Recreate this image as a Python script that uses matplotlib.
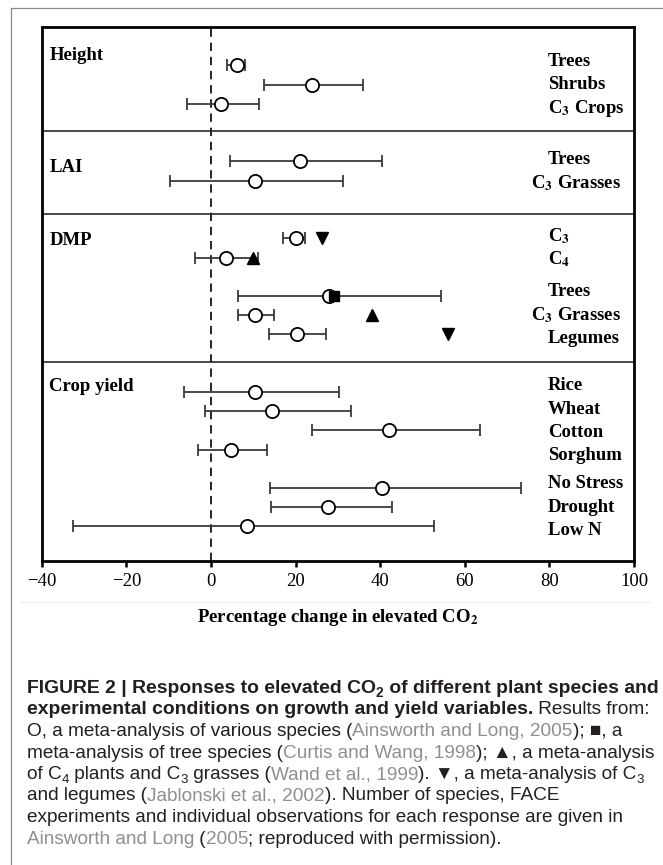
import matplotlib
matplotlib.use("Agg")
import matplotlib.pyplot as plt
from matplotlib.lines import Line2D
from matplotlib.transforms import blended_transform_factory

# values: % change under elevated CO2 (mean, 95% CI)
panel_names = ["Height", "LAI", "DMP", "Crop yield"]

height_labels = ["Trees", "Shrubs", r"C$_\mathbf{3}$ Crops"]
height_mean = [6.1, 23.9, 2.4]
height_lo = [3.8, 12.5, -5.7]
height_hi = [8.1, 36.0, 11.3]
height_groups = [3]

lai_labels = ["Trees", r"C$_\mathbf{3}$ Grasses"]
lai_mean = [21.1, 10.3]
lai_lo = [4.4, -9.6]
lai_hi = [40.5, 31.3]
lai_groups = [2]

dmp_labels = [r"C$_\mathbf{3}$", r"C$_\mathbf{4}$", "Trees", r"C$_\mathbf{3}$ Grasses", "Legumes"]
dmp_mean = [20.0, 3.5, 27.8, 10.3, 20.3]
dmp_lo = [17.0, -3.8, 6.5, 6.5, 13.8]
dmp_hi = [22.2, 11.2, 54.3, 14.8, 27.3]
dmp_groups = [2, 3]
dmp_curtis = [None, None, 29.0, None, None]       # square
dmp_wand = [None, 10.0, None, 38.0, None]         # up triangle
dmp_jablonski = [26.2, None, None, None, 56.0]    # down triangle

crop_labels = ["Rice", "Wheat", "Cotton", "Sorghum", "No Stress", "Drought", "Low N"]
crop_mean = [10.3, 14.5, 42.2, 4.8, 40.4, 27.7, 8.5]
crop_lo = [-6.3, -1.5, 23.9, -3.0, 13.9, 14.3, -32.5]
crop_hi = [30.2, 33.2, 63.7, 13.2, 73.3, 42.7, 52.8]
crop_groups = [4, 3]

x_ticks = [-40, -20, 0, 20, 40, 60, 80, 100]

W, H = 663, 865
plt.rcParams["font.family"] = ["Liberation Serif", "DejaVu Serif"]

fig = plt.figure(figsize=(W / 100, H / 100), dpi=100)
ax = fig.add_axes([41.7 / W, 1 - 561 / H, (634 - 41.7) / W, (561 - 27) / H])

panels = [
    (height_labels, height_mean, height_lo, height_hi, height_groups),
    (lai_labels, lai_mean, lai_lo, lai_hi, lai_groups),
    (dmp_labels, dmp_mean, dmp_lo, dmp_hi, dmp_groups),
    (crop_labels, crop_mean, crop_lo, crop_hi, crop_groups),
]
name_shift = [-0.5, 0.3, 0.1, -0.3]
divider_shift = [-0.1, 0.24, -0.05]
label_step = 1.22

lab_tf = blended_transform_factory(ax.transAxes, ax.transData)
y = 2.0
dmp_rows = None
for p, (labels, mean, lo, hi, groups) in enumerate(panels):
    rows = []
    for g, n in enumerate(groups):
        if g:
            y += 1
        sub = []
        for _ in range(n):
            sub.append(y)
            y += 1
        rows.extend(sub)
        # row names sit a bit more spread than the points
        centre = (sub[0] + sub[-1]) / 2
        for i in range(n):
            text = labels[len(rows) - n + i]
            ly = centre + (i - (n - 1) / 2) * label_step
            if "Grasses" in text:
                ax.text(0.978, ly, text, transform=lab_tf, ha="right", va="center",
                        fontsize=13.5, fontweight="bold", math_fontfamily="stix")
            else:
                ax.text(0.855, ly, text, transform=lab_tf, ha="left", va="center",
                        fontsize=13.5, fontweight="bold", math_fontfamily="stix")
    xerr = [[m - l for m, l in zip(mean, lo)], [h - m for m, h in zip(mean, hi)]]
    ax.errorbar(mean, rows, xerr=xerr, fmt="o", ms=9.5, mfc="white", mec="black", mew=1.3,
                ecolor="#3a3a3a", elinewidth=1.3, capsize=4.5, capthick=1.3, zorder=3)
    ax.text(0.013, rows[0] + name_shift[p], panel_names[p], transform=lab_tf,
            ha="left", va="center", fontsize=13.5, fontweight="bold")
    if p == 2:
        dmp_rows = rows
    if p < len(panels) - 1:
        ax.axhline(y + 0.5 + divider_shift[p], color="#2a2a2a", lw=1.2, zorder=2)
        y += 2
bottom = y + 0.8

for vals, mk, ms in [(dmp_curtis, "s", 7.5), (dmp_wand, "^", 9), (dmp_jablonski, "v", 9)]:
    xs = [v for v in vals if v is not None]
    ys = [r for v, r in zip(vals, dmp_rows) if v is not None]
    ax.plot(xs, ys, ls="none", marker=mk, ms=ms, color="black", zorder=4)

ax.axvline(0, color="black", lw=1.2, ls=(0, (5, 3.5)), zorder=1)
ax.set_xlim(-40, 100)
ax.set_ylim(bottom, 0)
ax.set_yticks([])
ax.set_xticks(x_ticks)
ax.tick_params(axis="x", direction="out", length=4, width=1.8, labelsize=13.5, pad=5)
for s in ax.spines.values():
    s.set_linewidth(2.0)
ax.set_xlabel(r"Percentage change in elevated CO$_\mathbf{2}$", fontsize=13.5,
              fontweight="bold", math_fontfamily="stix")
ax.xaxis.set_label_coords(0.5, -(617 - 561) / 534)
ax.xaxis.label.set_va("center")

# outer frame of the figure panel
fig.add_artist(Line2D([10.7 / W, 10.7 / W], [0, 1 - 8.3 / H], color="#8c8c8c", lw=0.9))
fig.add_artist(Line2D([10.7 / W, 1], [1 - 8.3 / H, 1 - 8.3 / H], color="#8c8c8c", lw=0.9))
fig.add_artist(Line2D([20 / W, 650 / W], [1 - 602 / H, 1 - 602 / H], color="#eeeeee", lw=0.8))

# caption, drawn piece by piece so colour/weight can change mid-line
cap_family = ["Liberation Sans", "DejaVu Sans"]
renderer = fig.canvas.get_renderer()
INK, GREY = "#231f20", "#8f8f8f"

caption = [
    [("FIGURE 2 | Responses to elevated CO", "b"), ("2", "bs"), (" of different plant species and", "b")],
    [("experimental conditions on growth and yield variables.", "b"), (" Results from:", "n")],
    [("O, a meta-analysis of various species (", "n"), ("Ainsworth and Long, 2005", "g"), ("); \u25a0, a", "n")],
    [("meta-analysis of tree species (", "n"), ("Curtis and Wang, 1998", "g"), ("); \u25b2, a meta-analysis", "n")],
    [("of C", "n"), ("4", "ns"), (" plants and C", "n"), ("3", "ns"), (" grasses (", "n"),
     ("Wand et al., 1999", "g"), ("). \u25bc, a meta-analysis of C", "n"), ("3", "ns")],
    [("and legumes (", "n"), ("Jablonski et al., 2002", "g"), ("). Number of species, FACE", "n")],
    [("experiments and individual observations for each response are given in", "n")],
    [("Ainsworth and Long", "g"), (" (", "n"), ("2005", "g"), ("; reproduced with permission).", "n")],
]
# right end of each caption line in the reference (px)
line_ends = [661, 661, 636, 661, 650, 605, 653, 577]
x0 = 27


def width(s, size, weight):
    def w(txt):
        t = fig.text(0, 0, txt, fontsize=size, fontweight=weight, family=cap_family)
        out = t.get_window_extent(renderer).width
        t.remove()
        return out
    return w("|" + s + "|") - w("||")


def seg_size(st, bold_size, reg_size):
    size = bold_size if st.startswith("b") else reg_size
    return size * 0.7 if st.endswith("s") else size


def line_width(segs, bold_size, reg_size):
    return sum(width(s, seg_size(st, bold_size, reg_size), "bold" if st.startswith("b") else "normal")
               for s, st in segs)


bold_size = 10 * (line_ends[0] - x0) / line_width(caption[0], 10, 10)
fits = sorted(10 * (line_ends[i] - x0) / line_width(caption[i], 10, 10) for i in range(2, 8))
reg_size = fits[len(fits) // 2]
longest = max(x0 + line_width(segs, bold_size, reg_size) for segs in caption)
if longest > 660:
    reg_size *= (660 - x0) / (longest - x0)

base0, step = 693, 21.5
for i, segs in enumerate(caption):
    x = x0
    yb = base0 + i * step
    for s, st in segs:
        weight = "bold" if st.startswith("b") else "normal"
        sz = seg_size(st, bold_size, reg_size)
        dy = sz / 0.7 * 100 / 72 * 0.22 if st.endswith("s") else 0
        fig.text(x / W, 1 - (yb + dy) / H, s, fontsize=sz, fontweight=weight,
                 family=cap_family, color=GREY if st == "g" else INK, va="baseline", ha="left")
        x += width(s, sz, weight)

fig.savefig("out.png", dpi=100)
